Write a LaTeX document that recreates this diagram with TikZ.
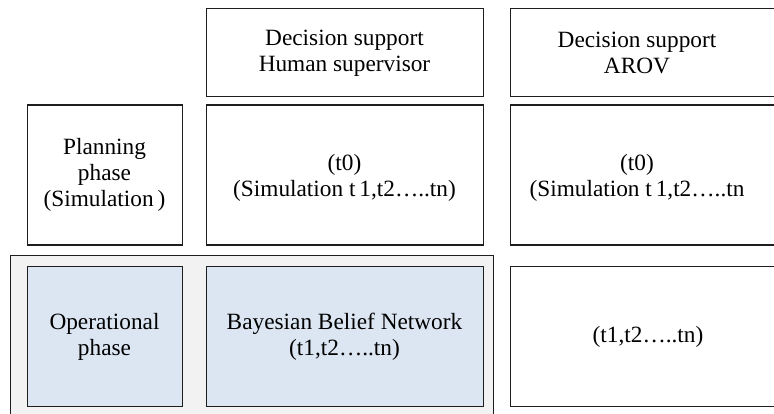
\documentclass[tikz,border=0pt]{standalone}
\usepackage{fontspec}
\setmainfont{Liberation Serif}
\definecolor{outerfill}{HTML}{F2F2F2}
\definecolor{bluefill}{HTML}{DCE6F2}
\definecolor{edge}{HTML}{1E1E1E}
\begin{document}
\begin{tikzpicture}[x=1pt,y=-1pt,
  cell/.style={draw=edge,line width=1.2pt,fill=white,anchor=north west,inner sep=0pt,
    minimum width=#1},
  cell/.default=277pt,
  lbl/.style={align=center,inner sep=0pt,font=\fontsize{23.3}{26}\selectfont}]
\useasboundingbox (0,0) rectangle (774,414);
\clip (0,0) rectangle (774,414);
% outer grey frame
\node[cell=483pt,fill=outerfill,minimum height=175pt] (outer) at (10,255) {};
% header row
\node[cell,minimum height=88pt] (hs) at (206,8) {};
\node[cell,minimum height=88pt] (ah) at (510,8) {};
% planning row
\node[cell=155pt,minimum height=140pt] (pp) at (27,104.5) {};
\node[cell,minimum height=140pt] (hm) at (206,104.5) {};
\node[cell,minimum height=140pt] (am) at (510,104.5) {};
% operational row
\node[cell=155pt,fill=bluefill,minimum height=140pt] (op) at (27,266) {};
\node[cell,fill=bluefill,minimum height=140pt] (bbn) at (206,266) {};
\node[cell,minimum height=140pt] (ab) at (510,266) {};
% labels
\node[lbl] (hsT) at (344.5,53) {Decision support\\Human supervisor};
\node[lbl] (ahT) at (637,53) {Decision support\\AROV};
\node[lbl] (ppT) at (104.5,175) {Planning\\phase\\(Simulation\,)};
\node[lbl] (hmT) at (344.5,178) {(t0)\\(Simulation t\,1,t2…..tn)};
\node[lbl] (amT) at (637,178) {(t0)\\(Simulation t\,1,t2…..tn};
\node[lbl] (opT) at (104.5,337) {Operational\\phase};
\node[lbl] (bbnT) at (344.5,337) {Bayesian Belief Network\\(t1,t2…..tn)};
\node[lbl] (abT) at (648,337) {(t1,t2…..tn)};
\end{tikzpicture}
\end{document}
